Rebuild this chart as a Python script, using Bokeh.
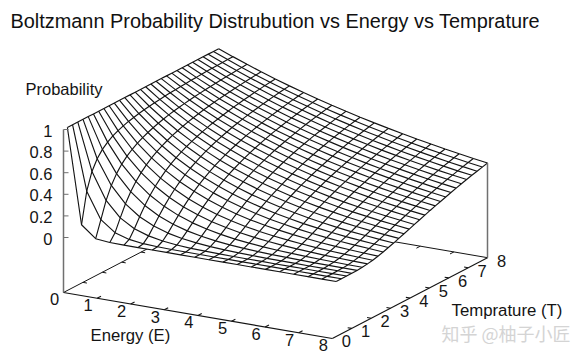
from bokeh.plotting import figure
from bokeh.embed import file_html
from bokeh.resources import INLINE
from bokeh.core.properties import value

title_text = "Boltzmann Probability Distrubution vs Energy vs Temprature"
z_label = "Probability"
e_label = "Energy (E)"
t_label = "Temprature (T)"
watermark = "知乎 @柚子小匠"
e_ticks = [0, 1, 2, 3, 4, 5, 6, 7, 8]
t_ticks = [0, 1, 2, 3, 4, 5, 6, 7, 8]
z_ticks = [0, 0.2, 0.4, 0.6, 0.8, 1]
z_tick_labels = ["0", "0.2", "0.4", "0.6", "0.8", "1"]

e_samples = [0, 0.421, 0.842, 1.263, 1.684, 2.105, 2.526, 2.947, 3.368, 3.789,
             4.211, 4.632, 5.053, 5.474, 5.895, 6.316, 6.737, 7.158, 7.579, 8]
t_samples = [0.2, 0.469, 0.738, 1.007, 1.276, 1.545, 1.814, 2.083, 2.352, 2.621,
             2.890, 3.159, 3.428, 3.697, 3.966, 4.234, 4.503, 4.772, 5.041, 5.310,
             5.579, 5.848, 6.117, 6.386, 6.655, 6.924, 7.193, 7.462, 7.731, 8]
# one row per temperature sample, one column per energy sample
probability = [
 [1,.122,.015,.002,0,0,0,0,0,0,0,0,0,0,0,0,0,0,0,0],
 [1,.407,.166,.068,.028,.011,.005,.002,.001,0,0,0,0,0,0,0,0,0,0,0],
 [1,.565,.319,.180,.102,.058,.033,.018,.010,.006,.003,.002,.001,.001,0,0,0,0,0,0],
 [1,.658,.433,.285,.188,.124,.081,.054,.035,.023,.015,.010,.007,.004,.003,.002,.001,.001,.001,0],
 [1,.719,.517,.372,.267,.192,.138,.099,.071,.051,.037,.027,.019,.014,.010,.007,.005,.004,.003,.002],
 [1,.761,.580,.442,.336,.256,.195,.148,.113,.086,.065,.050,.038,.029,.022,.017,.013,.010,.007,.006],
 [1,.793,.629,.498,.395,.313,.248,.197,.156,.124,.098,.078,.062,.049,.039,.031,.024,.019,.015,.012],
 [1,.817,.667,.545,.445,.364,.297,.243,.198,.162,.132,.108,.088,.072,.059,.048,.039,.032,.026,.021],
 [1,.836,.699,.585,.489,.409,.342,.286,.239,.200,.167,.140,.117,.098,.082,.068,.057,.048,.040,.033],
 [1,.852,.725,.618,.526,.448,.382,.325,.277,.236,.201,.171,.146,.124,.106,.090,.077,.065,.056,.047],
 [1,.864,.747,.646,.558,.483,.417,.361,.312,.270,.233,.201,.174,.150,.130,.112,.097,.084,.073,.063],
 [1,.875,.766,.670,.587,.513,.449,.393,.344,.301,.264,.231,.202,.177,.155,.135,.118,.104,.091,.079],
 [1,.884,.782,.692,.612,.541,.479,.423,.374,.331,.293,.259,.229,.203,.179,.158,.140,.124,.110,.097],
 [1,.892,.796,.710,.634,.566,.505,.450,.402,.358,.320,.285,.255,.227,.203,.181,.161,.144,.128,.115],
 [1,.899,.809,.727,.654,.588,.529,.475,.428,.384,.346,.311,.280,.251,.226,.203,.183,.164,.148,.133],
 [1,.905,.820,.742,.672,.608,.551,.498,.451,.408,.370,.335,.303,.274,.248,.225,.204,.184,.167,.151],
 [1,.911,.829,.755,.688,.626,.570,.520,.473,.431,.392,.357,.325,.296,.270,.246,.224,.204,.186,.169],
 [1,.916,.838,.767,.703,.643,.589,.539,.494,.452,.414,.379,.347,.318,.291,.266,.244,.223,.204,.187],
 [1,.920,.846,.778,.716,.659,.606,.557,.513,.472,.434,.399,.367,.338,.311,.286,.263,.242,.223,.205],
 [1,.924,.853,.788,.728,.673,.621,.574,.530,.490,.452,.418,.386,.357,.329,.304,.281,.260,.240,.222],
 [1,.927,.860,.797,.739,.686,.636,.590,.547,.507,.470,.436,.404,.375,.348,.322,.299,.277,.257,.238],
 [1,.931,.866,.806,.750,.698,.649,.604,.562,.523,.487,.453,.421,.392,.365,.339,.316,.294,.273,.254],
 [1,.933,.871,.813,.759,.709,.661,.617,.576,.538,.502,.469,.437,.408,.381,.356,.332,.310,.289,.270],
 [1,.936,.876,.820,.768,.719,.673,.630,.590,.552,.517,.484,.453,.424,.397,.372,.348,.326,.305,.286],
 [1,.939,.881,.827,.776,.729,.684,.642,.603,.566,.531,.499,.468,.439,.412,.387,.363,.341,.320,.301],
 [1,.941,.885,.833,.784,.738,.694,.653,.615,.578,.544,.512,.482,.453,.427,.401,.378,.355,.334,.315],
 [1,.943,.889,.839,.791,.746,.704,.664,.626,.590,.557,.525,.495,.467,.440,.415,.392,.369,.348,.329],
 [1,.945,.893,.844,.798,.754,.713,.674,.637,.602,.569,.537,.508,.480,.454,.429,.405,.383,.362,.342],
 [1,.947,.897,.849,.804,.761,.721,.683,.647,.612,.580,.549,.520,.492,.466,.441,.418,.396,.375,.355],
 [1,.949,.900,.854,.810,.768,.729,.691,.656,.622,.590,.560,.531,.504,.478,.454,.430,.408,.387,.368],
]

# oblique view of the box: screen position of (energy, temperature, probability)
Z_FLOOR = -0.509
E_MAX = e_ticks[-1]
T_MAX = t_ticks[-1]
def sx(e, t):
    return 63 + 33.6 * e + 19.4 * t
def sy(e, t, z):
    return 237 + 5.75 * e - 10.1 * t - 108 * z

FONT = value("Liberation Sans")
INK = "#141414"
GREY = "#707070"

p = figure(width=575, height=355, x_range=(0, 575), y_range=(355, 0),
           output_backend="svg", toolbar_location=None, min_border=0)
p.axis.visible = False
p.grid.visible = False
p.outline_line_color = None
p.background_fill_color = "white"

def segs(pts):
    return [[sx(e, t) + dx for e, t, z, dx in s] for s in pts], [[sy(e, t, z) for e, t, z, dx in s] for s in pts]

# rear floor edges and their ticks: they pass behind the surface
rear = [[(0, 0, Z_FLOOR, 0), (0, T_MAX, Z_FLOOR, 0)], [(E_MAX, T_MAX, Z_FLOOR, 0), (0, T_MAX, Z_FLOOR, 0)]]
rear += [[(0, t, Z_FLOOR, 0), (0.12, t, Z_FLOOR, 0)] for t in t_ticks[1:-1]]
rear += [[(e, T_MAX, Z_FLOOR, 0), (e, T_MAX - 0.2, Z_FLOOR, 0)] for e in e_ticks[1:-1]]
xs, ys = segs(rear)
p.multi_line(xs, ys, line_color=INK, line_width=1)

# white silhouette that hides what lies behind the surface
n_t, n_e = len(t_samples), len(e_samples)
outline = [(i, 0) for i in range(n_e)] + [(n_e - 1, k) for k in range(n_t)] \
    + [(i, n_t - 1) for i in range(n_e - 1, -1, -1)] + [(0, k) for k in range(n_t - 1, -1, -1)]
p.patch([sx(e_samples[i], t_samples[k]) for i, k in outline],
        [sy(e_samples[i], t_samples[k], probability[k][i]) for i, k in outline],
        fill_color="white", line_color=None)

# the mesh
mx, my = [], []
for k, t in enumerate(t_samples):
    mx.append([sx(e, t) for e in e_samples])
    my.append([sy(e, t, probability[k][i]) for i, e in enumerate(e_samples)])
for i, e in enumerate(e_samples):
    mx.append([sx(e, t) for t in t_samples])
    my.append([sy(e, t, probability[k][i]) for k, t in enumerate(t_samples)])
p.multi_line(mx, my, line_color=INK, line_width=1.15)

# front floor edges and ticks
front = [[(0, 0, Z_FLOOR, 0), (E_MAX, 0, Z_FLOOR, 0)], [(E_MAX, 0, Z_FLOOR, 0), (E_MAX, T_MAX, Z_FLOOR, 0)]]
front += [[(e, 0, Z_FLOOR, 0), (e, 0.2, Z_FLOOR, 0)] for e in e_ticks[1:-1]]
front += [[(E_MAX, t, Z_FLOOR, 0), (E_MAX - 0.12, t, Z_FLOOR, 0)] for t in t_ticks[1:-1]]
xs, ys = segs(front)
p.multi_line(xs, ys, line_color=INK, line_width=1.1)

# verticals and probability ticks
v = [[(0, 0, Z_FLOOR, 0), (0, 0, z_ticks[-1], 0)],
     [(E_MAX, T_MAX, Z_FLOOR, 0), (E_MAX, T_MAX, probability[-1][-1], 0)]]
xs, ys = segs(v)
p.multi_line(xs, ys, line_color=GREY, line_width=1.5)
tk = [[(0, 0, z, 0), (0, 0, z, 5)] for z in z_ticks]
xs, ys = segs(tk)
p.multi_line(xs, ys, line_color=GREY, line_width=1)

TS = "16.5px"
p.text([sx(0, 0) - 11 for _ in z_ticks], [sy(0, 0, z) + 1 for z in z_ticks], text=z_tick_labels,
       text_font=FONT, text_font_size=TS, text_align="right", text_baseline="middle", text_color=INK)
p.text([sx(e, 0) - 9 for e in e_ticks], [sy(e, 0, Z_FLOOR) + 7 for e in e_ticks],
       text=[str(e) for e in e_ticks], text_font=FONT, text_font_size=TS,
       text_align="center", text_baseline="middle", text_color=INK)
p.text([sx(E_MAX, t) + 14 for t in t_ticks], [sy(E_MAX, t, Z_FLOOR) + 3 for t in t_ticks],
       text=[str(t) for t in t_ticks], text_font=FONT, text_font_size=TS,
       text_align="center", text_baseline="middle", text_color=INK)

p.text([10], [20], text=[title_text], text_font=FONT, text_font_size="19.9px",
       text_baseline="middle", text_color="#111111")
p.text([25], [88], text=[z_label], text_font=FONT, text_font_size="16.5px",
       text_baseline="middle", text_color=INK)
p.text([90], [335], text=[e_label], text_font=FONT, text_font_size="16.7px",
       text_baseline="middle", text_color=INK)
p.text([451], [310], text=[t_label], text_font=FONT, text_font_size="16.8px",
       text_baseline="middle", text_color=INK)
p.text([441], [332], text=[watermark], text_font=value("Noto Sans CJK SC"), text_font_size="18px",
       text_baseline="middle", text_color="#d4d4d4")

open("out.html", "w").write(file_html(p, INLINE))
